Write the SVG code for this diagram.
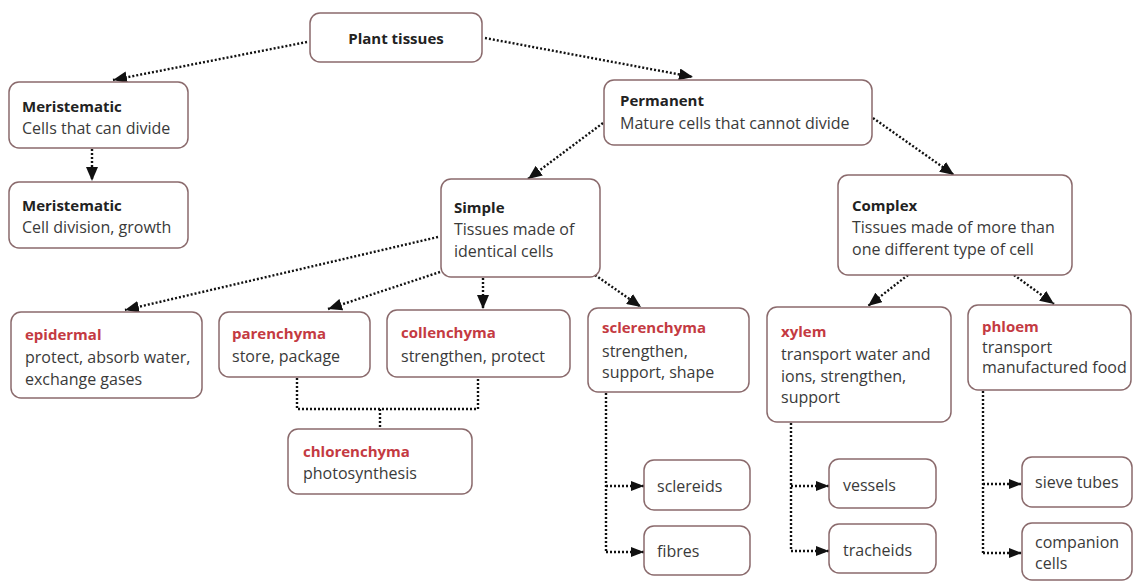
<svg xmlns="http://www.w3.org/2000/svg" width="1136" height="582" viewBox="0 0 1136 582">
<style>
.box{fill:#fff;stroke:#8a6a6c;stroke-width:1.5}
text{font-family:"Open Sans","Noto Sans","Liberation Sans",sans-serif;font-size:16px;fill:#3a3a3a}
.h{font-weight:bold;font-size:15px;fill:#222}
.r{font-weight:bold;font-size:15px;fill:#c43a42}
.c{fill:none;stroke:#111;stroke-width:2.4;stroke-dasharray:2 2}
</style>
<defs>
<marker id="ah" markerUnits="userSpaceOnUse" markerWidth="16" markerHeight="12" refX="14" refY="6" orient="auto">
<path d="M0,0 L14,6 L0,12 Z" fill="#111"/>
</marker>
<marker id="as" markerUnits="userSpaceOnUse" markerWidth="14" markerHeight="10" refX="13" refY="5" orient="auto">
<path d="M0,0 L13,5 L0,10 Z" fill="#111"/>
</marker>
</defs>
<rect width="1136" height="582" fill="#fff"/>
<g id="connectors">
<line class="c" x1="307" y1="42" x2="113" y2="80" marker-end="url(#ah)"/>
<line class="c" x1="485" y1="38" x2="693" y2="77" marker-end="url(#ah)"/>
<line class="c" x1="92" y1="149" x2="92" y2="181" marker-end="url(#ah)"/>
<line class="c" x1="603" y1="123" x2="528" y2="179" marker-end="url(#ah)"/>
<line class="c" x1="873" y1="118" x2="954" y2="175" marker-end="url(#ah)"/>
<line class="c" x1="438" y1="237" x2="125" y2="310" marker-end="url(#ah)"/>
<line class="c" x1="440" y1="272" x2="328" y2="309" marker-end="url(#ah)"/>
<line class="c" x1="483" y1="278" x2="483" y2="309" marker-end="url(#ah)"/>
<line class="c" x1="595" y1="275" x2="641" y2="307" marker-end="url(#ah)"/>
<line class="c" x1="908" y1="275" x2="868" y2="306" marker-end="url(#ah)"/>
<line class="c" x1="1014" y1="275" x2="1054" y2="304" marker-end="url(#ah)"/>
<polyline class="c" points="297,378 297,409 478,409 478,378"/>
<line class="c" x1="380" y1="409" x2="380" y2="429"/>
<line class="c" x1="606" y1="393" x2="606" y2="552"/>
<line class="c" x1="606" y1="486" x2="644" y2="486" marker-end="url(#as)"/>
<line class="c" x1="606" y1="552" x2="644" y2="552" marker-end="url(#as)"/>
<line class="c" x1="791" y1="423" x2="791" y2="551"/>
<line class="c" x1="791" y1="486" x2="829" y2="486" marker-end="url(#as)"/>
<line class="c" x1="791" y1="551" x2="829" y2="551" marker-end="url(#as)"/>
<line class="c" x1="983" y1="391" x2="983" y2="553"/>
<line class="c" x1="983" y1="484" x2="1022" y2="484" marker-end="url(#as)"/>
<line class="c" x1="983" y1="553" x2="1022" y2="553" marker-end="url(#as)"/>
</g>
<g id="plant-tissues"><rect class="box" x="310" y="13" width="172" height="49" rx="10"/><text class="h" x="396" y="44" text-anchor="middle">Plant tissues</text></g>
<g id="meristematic-1"><rect class="box" x="9" y="82" width="179" height="66" rx="10"/><text class="h" x="22" y="112">Meristematic</text><text x="22" y="134">Cells that can divide</text></g>
<g id="meristematic-2"><rect class="box" x="9" y="182" width="179" height="66" rx="10"/><text class="h" x="22" y="211">Meristematic</text><text x="22" y="233">Cell division, growth</text></g>
<g id="permanent"><rect class="box" x="604" y="80" width="268" height="65" rx="10"/><text class="h" x="620" y="106">Permanent</text><text x="620" y="129">Mature cells that cannot divide</text></g>
<g id="simple"><rect class="box" x="441" y="179" width="159" height="98" rx="10"/><text class="h" x="454" y="213">Simple</text><text x="454" y="235">Tissues made of</text><text x="454" y="257">identical cells</text></g>
<g id="complex"><rect class="box" x="838" y="175" width="234" height="100" rx="10"/><text class="h" x="852" y="211">Complex</text><text x="852" y="233">Tissues made of more than</text><text x="852" y="255">one different type of cell</text></g>
<g id="epidermal"><rect class="box" x="11" y="312" width="191" height="86" rx="10"/><text class="r" x="25" y="340">epidermal</text><text x="25" y="363">protect, absorb water,</text><text x="25" y="385">exchange gases</text></g>
<g id="parenchyma"><rect class="box" x="219" y="312" width="151" height="65" rx="10"/><text class="r" x="232" y="339">parenchyma</text><text x="232" y="362">store, package</text></g>
<g id="collenchyma"><rect class="box" x="387" y="310" width="183" height="67" rx="10"/><text class="r" x="401" y="338">collenchyma</text><text x="401" y="362">strengthen, protect</text></g>
<g id="sclerenchyma"><rect class="box" x="588" y="308" width="161" height="84" rx="10"/><text class="r" x="602" y="333">sclerenchyma</text><text x="602" y="357">strengthen,</text><text x="602" y="378">support, shape</text></g>
<g id="chlorenchyma"><rect class="box" x="288" y="429" width="184" height="65" rx="10"/><text class="r" x="303" y="457">chlorenchyma</text><text x="303" y="479">photosynthesis</text></g>
<g id="xylem"><rect class="box" x="767" y="307" width="184" height="115" rx="10"/><text class="r" x="781" y="337">xylem</text><text x="781" y="360">transport water and</text><text x="781" y="382">ions, strengthen,</text><text x="781" y="403">support</text></g>
<g id="phloem"><rect class="box" x="968" y="305" width="163" height="85" rx="10"/><text class="r" x="982" y="332">phloem</text><text x="982" y="353">transport</text><text x="982" y="373">manufactured food</text></g>
<g id="sclereids"><rect class="box" x="644" y="460" width="106" height="50" rx="10"/><text x="657" y="492">sclereids</text></g>
<g id="fibres"><rect class="box" x="644" y="526" width="106" height="49" rx="10"/><text x="657" y="557">fibres</text></g>
<g id="vessels"><rect class="box" x="829" y="459" width="107" height="49" rx="10"/><text x="843" y="491">vessels</text></g>
<g id="tracheids"><rect class="box" x="829" y="524" width="107" height="49" rx="10"/><text x="843" y="556">tracheids</text></g>
<g id="sieve-tubes"><rect class="box" x="1022" y="457" width="110" height="50" rx="10"/><text x="1035" y="488">sieve tubes</text></g>
<g id="companion-cells"><rect class="box" x="1022" y="523" width="110" height="57" rx="10"/><text x="1035" y="548">companion</text><text x="1035" y="569">cells</text></g>
</svg>
